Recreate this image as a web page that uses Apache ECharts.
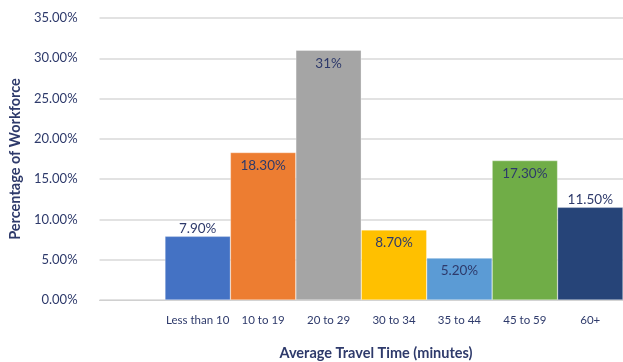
<!DOCTYPE html>
<html>
<head>
<meta charset="utf-8">
<script src="https://cdn.jsdelivr.net/npm/echarts@6/dist/echarts.min.js"></script>
<style>
  html, body { margin: 0; padding: 0; background: #fff; }
  #chart { width: 623px; height: 362px; }
</style>
</head>
<body>
<div id="chart"></div>
<script>
// Share of workforce by average commute time (minutes)
const categories = ['', 'Less than 10', '10 to 19', '20 to 29', '30 to 34', '35 to 44', '45 to 59', '60+'];
const values = [null, 7.9, 18.3, 31, 8.7, 5.2, 17.3, 11.5];
const valueLabels = ['', '7.90%', '18.30%', '31%', '8.70%', '5.20%', '17.30%', '11.50%'];
const labelOutside = [false, true, false, false, false, false, false, true];
const barColors = ['#4472C4', '#4472C4', '#ED7D31', '#A5A5A5', '#FFC000', '#5B9BD5', '#70AD47', '#264478'];
const yTicks = [0, 5, 10, 15, 20, 25, 30, 35];

const textColor = '#2E3A6B';
const font = 'Lato, Open Sans, sans-serif';

const seriesData = values.map((v, i) => ({
  value: v,
  itemStyle: { color: barColors[i] },
  label: {
    show: v !== null,
    position: labelOutside[i] ? 'top' : 'insideTop',
    distance: labelOutside[i] ? 1 : 6,
    formatter: valueLabels[i]
  }
}));

const chart = echarts.init(document.getElementById('chart'), null, { renderer: 'canvas' });
chart.setOption({
  animation: false,
  grid: { left: 96, right: 0, top: 18, bottom: 62 },
  xAxis: {
    type: 'category',
    data: categories,
    axisLine: { show: true, lineStyle: { color: '#D0D0D0', width: 1 } },
    axisTick: { show: false },
    axisLabel: { interval: 0, color: textColor, fontFamily: font, fontSize: 11.5, margin: 14 }
  },
  yAxis: {
    type: 'value',
    min: yTicks[0],
    max: yTicks[yTicks.length - 1],
    interval: 5,
    name: 'Percentage of Workforce',
    nameLocation: 'middle',
    nameGap: 69,
    nameTextStyle: { color: textColor, fontFamily: font, fontSize: 14.5, fontWeight: 'bold' },
    axisLine: { show: false },
    axisTick: { show: false },
    axisLabel: {
      color: textColor, fontFamily: font, fontSize: 13, margin: 22,
      formatter: v => v.toFixed(2) + '%'
    },
    splitLine: { lineStyle: { color: '#D9D9D9', width: 1.5 } }
  },
  graphic: [
    {
      type: 'text',
      x: 376, y: 346,
      style: {
        text: 'Average Travel Time (minutes)',
        fill: textColor,
        font: 'bold 14.5px ' + font,
        textAlign: 'center'
      }
    }
  ],
  series: [{
    type: 'bar',
    data: seriesData,
    barCategoryGap: '0%',
    itemStyle: { borderColor: 'rgba(255,255,255,0.6)', borderWidth: 0.5 },
    label: { color: textColor, fontFamily: font, fontSize: 13.5 }
  }]
});
</script>
</body>
</html>
